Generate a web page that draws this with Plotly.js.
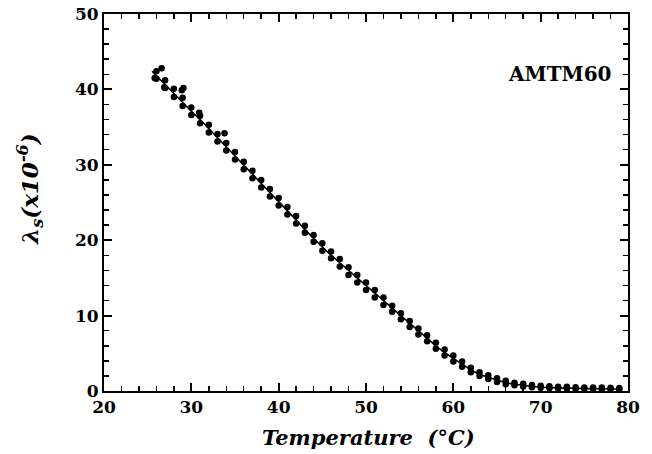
<!DOCTYPE html>
<html>
<head>
<meta charset="utf-8">
<script src="https://cdn.plot.ly/plotly-3.0.1.min.js"></script>
<style>html,body{margin:0;padding:0;background:#fff;}#chart{width:652px;height:454px;}</style>
</head>
<body>
<div id="chart"></div>
<script>
// Temperature (°C)
const temps = [26,27,28,29,30,31,32,33,34,35,36,37,38,39,40,41,42,43,44,45,46,47,48,49,50,51,52,53,54,55,56,57,58,59,60,61,62,63,64,65,66,67,68,69,70,71,72,73,74,75,76,77,78,79];
// Fitted curve λs (x10^-6)
const fitT = [25.5,26,27,28,29,30,31,32,33,34,35,36,37,38,39,40,41,42,43,44,45,46,47,48,49,50,51,52,53,54,55,56,57,58,59,60,61,62,63,64,65,66,67,68,69,70,71,72,73,74,75,76,77,78,79];
const fitV = [42.4,41.8,40.7,39.5,38.3,37.1,36.0,34.8,33.6,32.4,31.2,29.9,28.7,27.5,26.3,25.1,23.9,22.7,21.4,20.2,19.1,18.0,17.0,15.9,14.9,13.9,12.9,11.9,10.9,9.9,8.9,7.9,7.0,6.0,5.1,4.3,3.5,2.8,2.2,1.8,1.4,1.1,0.9,0.75,0.6,0.5,0.45,0.4,0.38,0.35,0.33,0.3,0.3,0.28,0.27];
// Measured points (upper and lower readings)
const measUp = [42.4,41.2,40.1,38.9,37.6,36.5,35.3,34.1,32.9,31.7,30.4,29.2,28.0,26.8,25.6,24.4,23.2,21.9,20.7,19.6,18.5,17.5,16.4,15.4,14.4,13.4,12.4,11.3,10.3,9.3,8.3,7.4,6.4,5.5,4.7,3.9,3.1,2.5,2.1,1.7,1.35,1.1,0.95,0.8,0.7,0.62,0.58,0.55,0.5,0.48,0.45,0.45,0.42,0.4];
const measDown = [41.4,40.2,39.0,37.8,36.6,35.5,34.3,33.1,31.9,30.7,29.4,28.2,27.0,25.8,24.6,23.4,22.2,21.0,19.8,18.6,17.6,16.5,15.4,14.4,13.4,12.4,11.4,10.5,9.5,8.5,7.5,6.6,5.6,4.7,3.9,3.2,2.5,2.0,1.6,1.2,0.9,0.75,0.6,0.5,0.4,0.35,0.32,0.3,0.28,0.26,0.25,0.24,0.23,0.22];
// Extra scattered readings near room temperature
const extraT = [25.8,26.6,26.9,28.9,29.1,30.9,33.8];
const extraV = [41.5,42.8,40.3,39.9,40.2,36.9,34.2];

const xTicks = [20,30,40,50,60,70,80];
const yTicks = [0,10,20,30,40,50];

const fontFam = '"DejaVu Serif", "Liberation Serif", serif';
const mk = {color:'#000', size:6.5};

const traces = [
  {x: fitT, y: fitV, mode:'lines', line:{color:'#000', width:1.6}, hoverinfo:'skip'},
  {x: temps, y: measUp, mode:'markers', marker:mk},
  {x: temps, y: measDown, mode:'markers', marker:mk},
  {x: extraT, y: extraV, mode:'markers', marker:mk}
];

const axisCommon = {
  showgrid:false, zeroline:false, showline:true, linecolor:'#000', linewidth:2,
  mirror:'ticks', ticks:'inside', ticklen:8, tickwidth:2, tickcolor:'#000',
  tickfont:{family:fontFam, size:17, color:'#000', weight:'bold'}
};

const layout = {
  width:652, height:454,
  margin:{l:104, r:24, t:14, b:63},
  paper_bgcolor:'#fff', plot_bgcolor:'#fff',
  showlegend:false,
  xaxis: Object.assign({}, axisCommon, {range:[20,80], tickmode:'array', tickvals:xTicks, ticktext:xTicks.map(String),
    minor:{dtick:2, tick0:20, ticks:'inside', ticklen:5, tickwidth:1.5, tickcolor:'#000'}}),
  yaxis: Object.assign({}, axisCommon, {range:[0,50], tickmode:'array', tickvals:yTicks, ticktext:yTicks.map(String),
    minor:{dtick:2, tick0:0, ticks:'inside', ticklen:5, tickwidth:1.5, tickcolor:'#000'}}),
  annotations:[
    {text:'<b>AMTM60</b>', xref:'paper', yref:'paper', x:0.87, y:0.841, showarrow:false,
     font:{family:fontFam, size:20, color:'#000'}, xanchor:'center', yanchor:'middle'},
    {text:'<b><i>Temperature</i>  <i>(°C)</i></b>', xref:'paper', yref:'paper', x:0.504, y:0, yshift:-46, showarrow:false,
     font:{family:fontFam, size:21, color:'#000'}, xanchor:'center', yanchor:'middle'},
    {text:'<b><i>λ<sub>s</sub>(x10<sup>-6</sup>)</i></b>', xref:'paper', yref:'paper', x:0, xshift:-74, y:0.536, showarrow:false,
     textangle:-90, font:{family:fontFam, size:23, color:'#000'}, xanchor:'center', yanchor:'middle'}
  ]
};

Plotly.newPlot('chart', traces, layout, {staticPlot:true});
</script>
</body>
</html>
